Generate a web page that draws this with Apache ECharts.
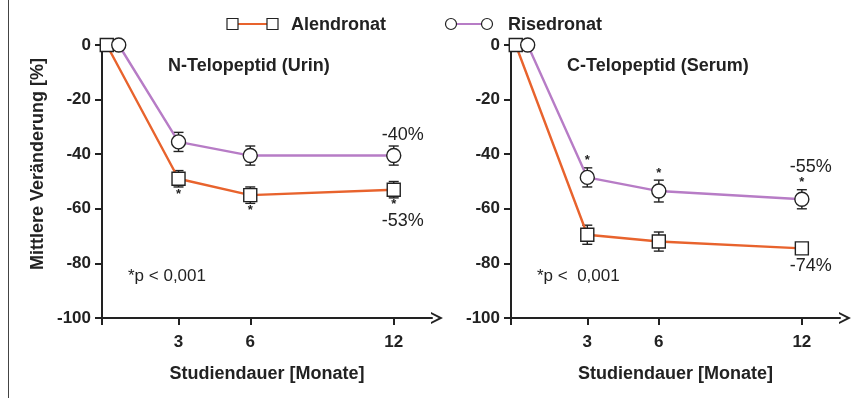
<!DOCTYPE html>
<html><head><meta charset="utf-8">
<script src="https://cdn.jsdelivr.net/npm/echarts@6/dist/echarts.min.js"></script>
<style>html,body{margin:0;padding:0;background:#fff}#c{width:855px;height:398px}</style>
</head><body><div id="c"></div>
<script>
// ---- data ----
const alenMonths = [0, 3, 6, 12];
const riseMonths = [0.5, 3, 6, 12];
const xTickLabels = [3, 6, 12];
const yTicks = [0, -20, -40, -60, -80, -100];

// N-Telopeptid (Urin)
const nAlen = [0, -49, -55, -53];
const nAlenErr = [0, 3, 3, 3];
const nAlenStar = [0, -1, -1, -1];       // -1 star below, 1 star above
const nRise = [0, -35.5, -40.5, -40.5];
const nRiseErr = [0, 3.5, 3.5, 3.5];
const nRiseStar = [0, 0, 0, 0];

// C-Telopeptid (Serum)
const cAlen = [0, -69.5, -72, -74.5];
const cAlenErr = [0, 3.5, 3.5, 0];
const cAlenStar = [0, 0, 0, 0];
const cRise = [0, -48.5, -53.5, -56.5];
const cRiseErr = [0, 3.5, 4, 3.5];
const cRiseStar = [0, 1, 1, 1];

// end annotations
const nAlenPct = ['', '', '', '-53%'];
const nRisePct = ['', '', '', '-40%'];
const cAlenPct = ['', '', '', '-74%'];
const cRisePct = ['', '', '', '-55%'];

// ---- style ----
const ORANGE = '#E8632D';
const PURPLE = '#B77CC6';
const INK = '#222';
const FONT = '"Liberation Sans", Arial, Helvetica, sans-serif';
const chevron = 'path://M0,10 L5,0 L10,10 L8.3,10 L5,3.6 L1.7,10 Z';

function xAxis(gi) {
  return {
    gridIndex: gi, type: 'value', min: -0.2, max: 13.6,
    name: 'Studiendauer [Monate]', nameLocation: 'middle', nameGap: 47,
    nameTextStyle: {fontFamily: FONT, fontWeight: 'bold', fontSize: 18, color: INK},
    axisLine: {show: true, onZero: false, lineStyle: {color: INK, width: 2},
      symbol: ['none', chevron], symbolSize: [13, 12], symbolOffset: [0, 5]},
    axisTick: {show: true, length: 7, lineStyle: {color: INK, width: 2}, customValues: [-0.2].concat(xTickLabels)},
    axisLabel: {customValues: xTickLabels, margin: 16, fontFamily: FONT, fontWeight: 'bold', fontSize: 17, color: INK},
    splitLine: {show: false}
  };
}
function yAxis(gi) {
  return {
    gridIndex: gi, type: 'value', min: -100, max: 0, interval: 20,
    axisLine: {show: true, onZero: false, lineStyle: {color: INK, width: 2}},
    axisTick: {show: true, length: 7, lineStyle: {color: INK, width: 2}},
    axisLabel: {margin: 11, fontFamily: FONT, fontWeight: 'bold', fontSize: 17, color: INK, customValues: yTicks},
    splitLine: {show: false}
  };
}
function lineSeries(gi, name, xs, ys, color, symbol, size) {
  return {
    type: 'line', name: name, xAxisIndex: gi, yAxisIndex: gi, z: 3,
    data: xs.map((x, i) => [x, ys[i]]),
    symbol: symbol, symbolSize: size, showSymbol: true,
    lineStyle: {color: color, width: 2.4},
    itemStyle: {color: '#fff', borderColor: INK, borderWidth: 1.4},
    emphasis: {disabled: true}, animation: false
  };
}
function errSeries(gi, xs, ys, errs, stars) {
  return {
    type: 'custom', xAxisIndex: gi, yAxisIndex: gi, z: 2, animation: false, silent: true,
    data: xs.map((x, i) => [x, ys[i], errs[i], stars[i]]),
    renderItem: function (params, api) {
      const x = api.value(0), y = api.value(1), e = api.value(2), s = api.value(3);
      const c = api.coord([x, y]);
      const t = api.coord([x, y + e]);
      const b = api.coord([x, y - e]);
      const children = [];
      const ls = {stroke: INK, lineWidth: 1.4};
      if (e > 0) {
        children.push({type: 'line', shape: {x1: c[0], y1: t[1], x2: c[0], y2: b[1]}, style: ls});
        children.push({type: 'line', shape: {x1: c[0] - 5, y1: t[1], x2: c[0] + 5, y2: t[1]}, style: ls});
        children.push({type: 'line', shape: {x1: c[0] - 5, y1: b[1], x2: c[0] + 5, y2: b[1]}, style: ls});
      }
      const half = Math.max(c[1] - t[1], 7);
      if (s) {
        children.push({type: 'text', style: {text: '*', x: c[0], y: c[1] + s * -(half + 7),
          align: 'center', verticalAlign: 'middle', fontFamily: FONT, fontSize: 13, fontWeight: 'bold', fill: INK}});
      }
      return {type: 'group', children: children};
    }
  };
}
function pctSeries(gi, xs, ys, errs, stars, pcts, dir) {
  return {
    type: 'custom', xAxisIndex: gi, yAxisIndex: gi, z: 4, animation: false, silent: true,
    data: xs.map((x, i) => [x, ys[i], errs[i], stars[i]]),
    renderItem: function (params, api) {
      const i = params.dataIndex;
      const p = pcts[i];
      if (!p) return {type: 'group', children: []};
      const x = api.value(0), y = api.value(1), e = api.value(2), s = api.value(3);
      const c = api.coord([x, y]);
      const t = api.coord([x, y + e]);
      const half = Math.max(c[1] - t[1], 7);
      const off = half + (s ? 12 : 0) + 11;
      return {type: 'text', style: {text: p, x: c[0] + 9, y: c[1] + dir * off,
        align: 'center', verticalAlign: 'middle', fontFamily: FONT, fontSize: 18, fill: INK}};
    }
  };
}

const chart = echarts.init(document.getElementById('c'), null, {renderer: 'canvas'});
const txt = (t, x, y, w, size, rot) => ({type: 'text', x: x, y: y, rotation: rot || 0,
  style: {text: t, fontFamily: FONT, fontWeight: w, fontSize: size, fill: INK,
    align: rot ? 'center' : 'left', verticalAlign: 'middle'}});
chart.setOption({
  animation: false,
  grid: [
    {left: 102, top: 45, width: 330, height: 273},
    {left: 511, top: 45, width: 329, height: 273}
  ],
  xAxis: [xAxis(0), xAxis(1)],
  yAxis: [yAxis(0), yAxis(1)],
  series: [
    errSeries(0, alenMonths, nAlen, nAlenErr, nAlenStar),
    errSeries(0, riseMonths, nRise, nRiseErr, nRiseStar),
    lineSeries(0, 'Alendronat', alenMonths, nAlen, ORANGE, 'rect', 13),
    lineSeries(0, 'Risedronat', riseMonths, nRise, PURPLE, 'circle', 14),
    pctSeries(0, alenMonths, nAlen, nAlenErr, nAlenStar, nAlenPct, 1),
    pctSeries(0, riseMonths, nRise, nRiseErr, nRiseStar, nRisePct, -1),
    errSeries(1, alenMonths, cAlen, cAlenErr, cAlenStar),
    errSeries(1, riseMonths, cRise, cRiseErr, cRiseStar),
    lineSeries(1, 'Alendronat', alenMonths, cAlen, ORANGE, 'rect', 13),
    lineSeries(1, 'Risedronat', riseMonths, cRise, PURPLE, 'circle', 14),
    pctSeries(1, alenMonths, cAlen, cAlenErr, cAlenStar, cAlenPct, 1),
    pctSeries(1, riseMonths, cRise, cRiseErr, cRiseStar, cRisePct, -1)
  ],
  graphic: [
    {type: 'line', shape: {x1: 8.5, y1: 0, x2: 8.5, y2: 398}, style: {stroke: '#444', lineWidth: 1}},
    // legend
    {type: 'line', shape: {x1: 233, y1: 24, x2: 272, y2: 24}, style: {stroke: ORANGE, lineWidth: 2}},
    {type: 'rect', shape: {x: 227, y: 18.5, width: 11, height: 11}, style: {fill: '#fff', stroke: INK, lineWidth: 1.2}},
    {type: 'rect', shape: {x: 267, y: 18.5, width: 11, height: 11}, style: {fill: '#fff', stroke: INK, lineWidth: 1.2}},
    txt('Alendronat', 291, 25, 'bold', 18),
    {type: 'line', shape: {x1: 451, y1: 24, x2: 487, y2: 24}, style: {stroke: PURPLE, lineWidth: 2}},
    {type: 'circle', shape: {cx: 451, cy: 24, r: 5.5}, style: {fill: '#fff', stroke: INK, lineWidth: 1.2}},
    {type: 'circle', shape: {cx: 487, cy: 24, r: 5.5}, style: {fill: '#fff', stroke: INK, lineWidth: 1.2}},
    txt('Risedronat', 508, 25, 'bold', 18),
    // y-axis title
    txt('Mittlere Veränderung [%]', 38, 164, 'bold', 18, Math.PI / 2),
    // panel titles
    txt('N-Telopeptid (Urin)', 168, 66, 'bold', 18),
    txt('C-Telopeptid (Serum)', 567, 66, 'bold', 18),
    txt('*p < 0,001', 128, 276, 'normal', 17),
    txt('*p <  0,001', 537, 276, 'normal', 17)
  ]
});
</script></body></html>
